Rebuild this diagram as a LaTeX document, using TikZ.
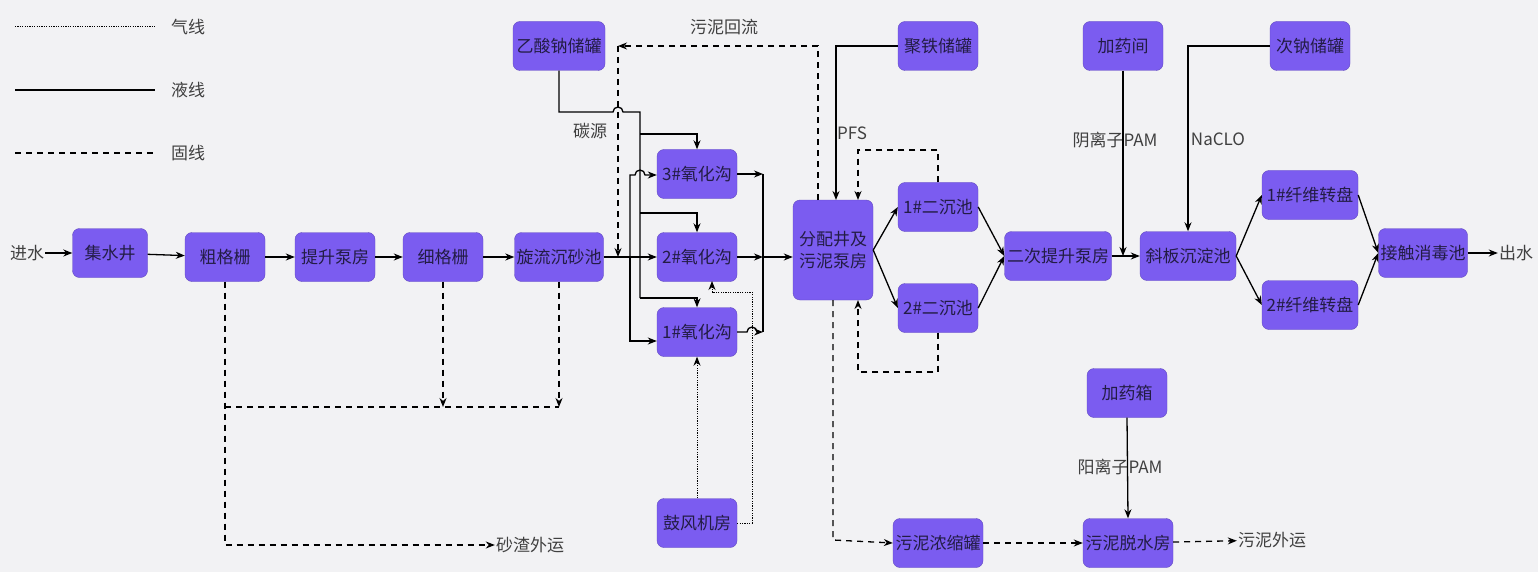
\documentclass[tikz,border=0pt]{standalone}
\usepackage{fontspec}
\setmainfont{Noto Sans CJK SC}
\usetikzlibrary{arrows.meta}
\definecolor{boxc}{HTML}{7B5CF0}
\definecolor{bg}{HTML}{F2F2F4}
\definecolor{txt}{HTML}{231C45}
\tikzset{
	box/.style={fill=boxc, draw=boxc!80!black, rounded corners=7pt, minimum width=80pt, minimum height=49pt, inner sep=2pt, text=txt, font=\fontsize{17}{22}\selectfont, align=center},
	lbl/.style={text=black!75, font=\fontsize{17}{20}\selectfont, inner sep=1pt},
	liq/.style={line width=1.3pt, -{Stealth[length=9pt,width=7pt]}},
	sol/.style={liq, dash pattern=on 6pt off 5pt},
	gas/.style={liq, dash pattern=on 1.2pt off 1.2pt, line width=1pt},
}
\begin{document}
\begin{tikzpicture}[x=1pt, y=-1pt]

	% background and frame
	\fill[bg] (0,0) rectangle (1538,572);
	\useasboundingbox (0,0) rectangle (1538,572);

	% legend
	\draw[line width=1pt, dash pattern=on 1.2pt off 1.2pt] (15,27) -- (155,27);
	\draw[line width=1.3pt] (15,90) -- (155,90);
	\draw[line width=1.3pt, dash pattern=on 6pt off 5pt] (15,153) -- (155,153);
	\node[lbl, anchor=west] (lgas) at (170,27) {气线};
	\node[lbl, anchor=west] (lliq) at (170,90) {液线};
	\node[lbl, anchor=west] (lsol) at (170,153) {固线};

	% main line nodes
	\node[lbl] (in) at (27,253) {进水};
	\node[box, minimum width=75pt] (well) at (110,253) {集水井};
	\node[box] (coarse) at (225,257) {粗格栅};
	\node[box] (lift) at (335,257) {提升泵房};
	\node[box] (fine) at (443,257) {细格栅};
	\node[box, minimum width=88pt] (grit) at (559,257) {旋流沉砂池};
	\node[box, minimum width=92pt] (acetate) at (559,46) {乙酸钠储罐};
	\node[box] (ox3) at (697,174) {3\#氧化沟};
	\node[box] (ox2) at (697,257) {2\#氧化沟};
	\node[box] (ox1) at (697,332) {1\#氧化沟};
	\node[box] (blower) at (697,523) {鼓风机房};
	\node[box, minimum height=100pt] (dist) at (833,250) {分配井及\\污泥泵房};
	\node[box] (iron) at (938,46) {聚铁储罐};
	\node[box] (sec1) at (938,207) {1\#二沉池};
	\node[box] (sec2) at (938,308) {2\#二沉池};
	\node[box, minimum width=107pt] (lift2) at (1058,256) {二次提升泵房};
	\node[box] (dose) at (1123,46) {加药间};
	\node[box, minimum width=96pt] (plate) at (1188,256) {斜板沉淀池};
	\node[box] (naclo) at (1310,46) {次钠储罐};
	\node[box, minimum width=96pt] (disc1) at (1310,195) {1\#纤维转盘};
	\node[box, minimum width=96pt] (disc2) at (1310,305) {2\#纤维转盘};
	\node[box, minimum width=86pt] (contact) at (1423,253) {接触消毒池};
	\node[lbl] (out) at (1516,253) {出水};
	\node[box] (dosebox) at (1127,393) {加药箱};
	\node[box, minimum width=90pt] (thick) at (938,543) {污泥浓缩罐};
	\node[box, minimum width=90pt] (dewater) at (1128,543) {污泥脱水房};
	\node[lbl] (grit_out) at (530,545) {砂渣外运};
	\node[lbl] (sludge_out) at (1272,540) {污泥外运};

	% labels
	\node[lbl] (lret) at (724,27) {污泥回流};
	\node[lbl] (lcarb) at (590,131) {碳源};
	\node[lbl] (lpfs) at (852,133) {PFS};
	\node[lbl] (lpam) at (1115,140) {阴离子PAM};
	\node[lbl] (lna) at (1218,139) {NaCLO};
	\node[lbl] (lcpam) at (1120,467) {阳离子PAM};

	% liquid line
	\draw[liq] (in) -- (well);
	\draw[liq] (well) -- (coarse);
	\draw[liq] (coarse) -- (lift);
	\draw[liq] (lift) -- (fine);
	\draw[liq] (fine) -- (grit);
	\draw[liq] (grit) -- (ox2);
	\draw[liq] (630,257) -- (630,341) -- (ox1.west |- 0,341);
	\draw[liq] (630,257) -- (630,175) -- (635,175) arc[start angle=180, end angle=360, radius=5] -- (ox3.west |- 0,175);

	% carbon source
	\draw[line width=1.3pt] (acetate.south) -- (559,112) -- (613,112) arc[start angle=180, end angle=360, radius=5] -- (640,112) -- (640,298);
	\draw[liq] (640,134) -- (697,134) -- (ox3.north);
	\draw[liq] (640,213) -- (697,213) -- (ox2.north);
	\draw[liq] (640,298) -- (697,298) -- (ox1.north);

	% ditch outlets
	\draw[liq] (ox3.east) -- (763,174);
	\draw[liq] (ox2.east) -- (763,257);
	\draw[liq] (ox1.east) -- (747,332) arc[start angle=180, end angle=360, radius=5] -- (763,332);
	\draw[line width=1.3pt] (763,174) -- (763,332);
	\draw[liq] (763,257) -- (dist.west |- 0,257);

	% air
	\draw[gas] (blower.north) -- (ox1.south);
	\draw[gas] (blower.east) -- (752,523) -- (752,292) -- (712,292) -- (712,281);

	% PFS
	\draw[liq] (iron.west) -- (836,46) -- (836,200);

	% secondary clarifiers
	\draw[liq] (dist.east) -- (sec1.west);
	\draw[liq] (dist.east) -- (sec2.west);
	\draw[liq] (sec1.east) -- (lift2.west);
	\draw[liq] (sec2.east) -- (lift2.west);
	\draw[liq] (lift2.east) -- (plate.west);
	\draw[liq] (dose.south) -- (1123,256);
	\draw[liq] (naclo.west) -- (1188,46) -- (plate.north);
	\draw[liq] (plate.east) -- (disc1.west);
	\draw[liq] (plate.east) -- (disc2.west);
	\draw[liq] (disc1.east) -- (contact.west);
	\draw[liq] (disc2.east) -- (contact.west);
	\draw[liq] (contact) -- (out);
	\draw[liq] (dosebox.south) -- (dewater.north);

	% solids
	\draw[sol] (coarse.south) -- (225,545) -- (grit_out.west);
	\draw[line width=1.3pt, dash pattern=on 6pt off 5pt] (225,407) -- (559,407);
	\draw[sol] (fine.south) -- (443,407);
	\draw[sol] (grit.south) -- (559,407);
	\draw[sol] (818,200) -- (818,46) -- (618,46);
	\draw[sol] (618,46) -- (618,257);
	\draw[sol] (sec1.north) -- (938,150) -- (858,150) -- (858,200);
	\draw[sol] (sec2.south) -- (938,372) -- (858,372) -- (858,300);
	\draw[sol] (dist.south) -- (833,540) -- (thick.west);
	\draw[sol] (thick) -- (dewater);
	\draw[sol] (dewater) -- (sludge_out);

\end{tikzpicture}
\end{document}
